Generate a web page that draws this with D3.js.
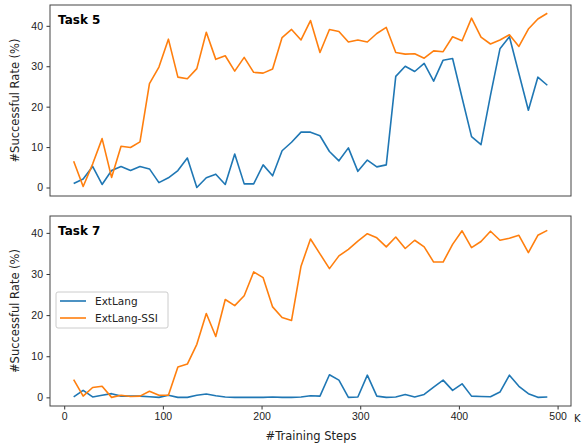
<!DOCTYPE html>
<html lang="en">
<head>
    <meta charset="UTF-8">
    <title>Task 5 / Task 7</title>
    <script src="https://d3js.org/d3.v7.min.js"></script>
</head>
<body style="margin:0;background:#fff">
<style>
    svg { font-family: "DejaVu Sans", sans-serif; }
    .tick text { font-size: 10.5px; fill: #222; }
    .tick line { stroke: #333; }
    .domain { display: none; }
</style>

<div id="my_dataviz"></div>

<script>

    // training steps (K), one evaluation every 9.6K steps
    var steps = d3.range(1, 52).map(function (k) { return k * 9.6; });

    // Task 5
    var task5_ext = [1.0, 2.1, 5.2, 0.75, 4.2, 5.2, 4.2, 5.2, 4.6, 1.2,
        2.4, 4.2, 7.3, 0.0, 2.4, 3.3, 0.75, 8.3, 0.9, 0.9,
        5.6, 2.9, 9.1, 11.2, 13.7, 13.7, 12.8, 8.9, 6.6, 9.8,
        4.0, 6.8, 5.1, 5.6, 27.5, 30.0, 28.7, 30.7, 26.3, 31.5,
        31.9, 22.2, 12.6, 10.6, 22.8, 34.3, 37.3, 28.2, 19.1, 27.3,
        25.3];
    var task5_ssi = [6.5, 0.25, 5.8, 12.1, 2.5, 10.2, 9.9, 11.3, 25.7, 29.8,
        36.7, 27.3, 26.9, 29.4, 38.4, 31.7, 32.6, 28.8, 32.2, 28.5,
        28.3, 29.3, 37.1, 39.1, 36.5, 41.3, 33.4, 39.1, 38.6, 36.0,
        36.5, 36.0, 38.1, 39.6, 33.4, 33.0, 33.1, 32.0, 33.8, 33.6,
        37.3, 36.3, 41.9, 37.2, 35.5, 36.5, 37.8, 34.9, 39.2, 41.7,
        43.1];

    // Task 7
    var task7_ext = [0.1, 1.7, 0.1, 0.5, 0.9, 0.3, 0.3, 0.3, 0.15, 0.0,
        0.5, 0.0, 0.0, 0.5, 0.8, 0.4, 0.1, 0.0, 0.0, 0.0,
        0.0, 0.1, 0.0, 0.0, 0.1, 0.4, 0.3, 5.5, 4.2, 0.0,
        0.1, 5.4, 0.3, 0.0, 0.1, 0.7, 0.1, 0.7, 2.5, 4.2,
        1.7, 3.3, 0.3, 0.2, 0.15, 1.3, 5.4, 2.7, 0.9, 0.0,
        0.1];
    var task7_ssi = [4.3, 0.3, 2.4, 2.7, 0.0, 0.5, 0.2, 0.3, 1.5, 0.5,
        0.5, 7.4, 8.1, 12.9, 20.4, 14.8, 23.8, 22.3, 24.7, 30.5,
        29.1, 22.0, 19.4, 18.7, 31.9, 38.5, 34.9, 31.3, 34.4, 36.0,
        38.0, 39.8, 38.8, 36.6, 39.0, 36.2, 38.2, 36.6, 32.9, 32.9,
        37.2, 40.5, 36.4, 37.9, 40.4, 38.2, 38.7, 39.4, 35.2, 39.4,
        40.6];

    var seriesNames = ["ExtLang", "ExtLang-SSI"];
    var colors = ["#1f77b4", "#ff7f0e"];
    var xTicks = [0, 100, 200, 300, 400, 500];
    var yTicks = [0, 10, 20, 30, 40];

    var panels = [
        {title: "Task 5", series: [task5_ext, task5_ssi], top: 5, height: 191, ymax: 45.15, showX: false, legend: false},
        {title: "Task 7", series: [task7_ext, task7_ssi], top: 216, height: 190, ymax: 44.1, showX: true, legend: true}
    ];

    var W = 582, H = 443;
    var left = 50, right = 571;

    var svg = d3.select("#my_dataviz").append("svg")
        .attr("width", W)
        .attr("height", H);

    var x = d3.scaleLinear().domain([-14.4, 513.6]).range([left, right]);

    panels.forEach(function (p) {
        var y = d3.scaleLinear().domain([-2.1, p.ymax]).range([p.top + p.height, p.top]);
        var g = svg.append("g");

        // Y axis
        g.append("g")
            .attr("transform", "translate(" + left + ",0)")
            .call(d3.axisLeft(y).tickValues(yTicks).tickSize(3.5).tickPadding(3.5));

        // X axis (bottom panel only)
        if (p.showX) {
            g.append("g")
                .attr("transform", "translate(0," + (p.top + p.height) + ")")
                .call(d3.axisBottom(x).tickValues(xTicks).tickSize(3.5).tickPadding(3.5));
        }

        // lines
        p.series.forEach(function (vals, i) {
            var line = d3.line()
                .x(function (d, j) { return x(steps[j]); })
                .y(function (d) { return y(d); });
            g.append("path")
                .datum(vals)
                .attr("fill", "none")
                .attr("stroke", colors[i])
                .attr("stroke-width", 1.6)
                .attr("stroke-linejoin", "round")
                .attr("d", line);
        });

        // frame
        g.append("rect")
            .attr("x", left).attr("y", p.top)
            .attr("width", right - left).attr("height", p.height)
            .attr("fill", "none").attr("stroke", "#444").attr("stroke-width", 1);

        // panel title
        g.append("text")
            .attr("x", left + 8).attr("y", p.top + 19)
            .attr("font-size", "12px").attr("font-weight", "bold").attr("fill", "#000")
            .text(p.title);

        // y label
        g.append("text")
            .attr("transform", "translate(19," + (p.top + p.height / 2) + ") rotate(-90)")
            .attr("text-anchor", "middle")
            .attr("font-size", "11.5px").attr("fill", "#222")
            .text("#Successful Rate (%)");

        if (p.legend) {
            var lg = g.append("g").attr("transform", "translate(56,292)");
            lg.append("rect")
                .attr("width", 112).attr("height", 36).attr("rx", 2)
                .attr("fill", "#fff").attr("fill-opacity", 0.8)
                .attr("stroke", "#ccc");
            seriesNames.forEach(function (name, i) {
                var yy = 9 + i * 17;
                lg.append("line")
                    .attr("x1", 4).attr("x2", 30).attr("y1", yy).attr("y2", yy)
                    .attr("stroke", colors[i]).attr("stroke-width", 1.6);
                lg.append("text")
                    .attr("x", 39).attr("y", yy + 4)
                    .attr("font-size", "10.5px").attr("fill", "#222")
                    .text(name);
            });
        }
    });

    // x label and unit
    svg.append("text")
        .attr("x", 311).attr("y", 440)
        .attr("text-anchor", "middle")
        .attr("font-size", "11.5px").attr("fill", "#222")
        .text("#Training Steps");

    svg.append("text")
        .attr("x", 574).attr("y", 422)
        .attr("font-size", "10px").attr("fill", "#222")
        .text("K");

</script>

</body>
</html>
